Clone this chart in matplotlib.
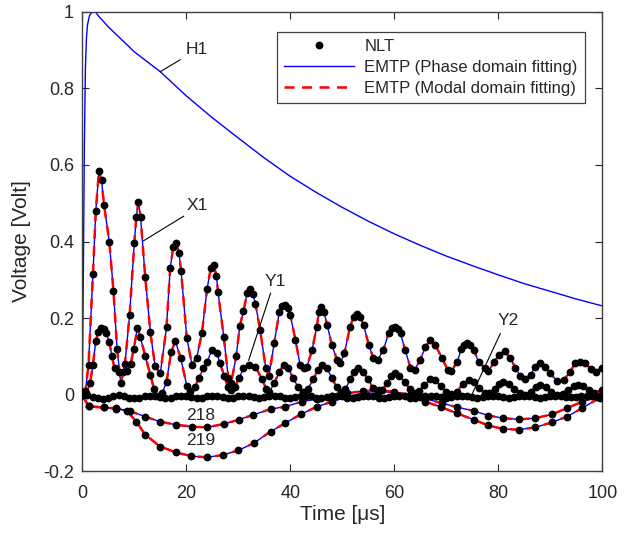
import numpy as np
import matplotlib.pyplot as plt
from matplotlib.lines import Line2D

plt.rcParams['font.family'] = ['Liberation Sans', 'DejaVu Sans']

# ---------------- data ----------------
# H1 (EMTP only, no NLT samples)
h1_t = [0, 0.2, 0.4, 0.6, 0.8, 1.0, 1.4, 2.0, 2.6, 3.0, 5, 10, 15, 20, 25, 30, 35,
        40, 45, 50, 55, 60, 65, 70, 75, 80, 85, 90, 95, 100]
h1_v = [0, 0.30, 0.65, 0.85, 0.93, 0.965, 0.99, 1.0, 0.998, 0.99, 0.96, 0.895, 0.843,
        0.78, 0.723, 0.67, 0.618, 0.57, 0.528, 0.489, 0.453, 0.42, 0.39, 0.362,
        0.337, 0.313, 0.29, 0.27, 0.25, 0.232]

x1_t = [0.0, 0.6, 1.2, 2.05, 2.6, 3.2, 3.7, 4.2, 5.2, 6.0, 6.7, 7.4, 8.2, 9.1, 10.0,
        10.4, 10.8, 11.2, 12.1, 13.1, 14.0, 15.0, 16.2, 16.9, 17.5, 18.1, 18.6, 19.0,
        20.1, 21.1, 22.0, 23.0, 24.0, 24.7, 25.3, 25.8, 26.1, 27.2, 28.1, 28.6, 29.6,
        30.3, 31.0, 31.7, 32.3, 32.8, 33.3, 34.2, 35.3, 35.9, 36.9, 37.9, 38.5, 39.0,
        39.5, 40.0, 41.0, 41.9, 42.6, 43.2, 44.2, 45.1, 45.5, 45.9, 46.5, 47.1, 48.0,
        49.0, 49.6, 50.4, 51.5, 52.2, 52.9, 53.5, 54.1, 55.1, 56.0, 56.8, 57.9, 58.9,
        59.5, 60.1, 60.7, 61.2, 62.1, 63.1, 63.9, 65.0, 66.0, 66.9, 67.9, 69.2, 70.3,
        71.0, 72.1, 72.9, 73.5, 74.0, 74.6, 75.3, 76.2, 77.5, 78.1, 79.2, 80.1, 81.2,
        82.3, 83.3, 84.2, 85.1, 86.2, 87.1, 88.1, 89.0, 90.0, 91.3, 92.6, 93.8, 94.8,
        95.8, 96.7, 97.9, 98.7, 100.0]
x1_v = [0.0, 0.01, 0.079, 0.314, 0.48, 0.583, 0.56, 0.494, 0.40, 0.27, 0.12, 0.03,
        0.08, 0.208, 0.395, 0.465, 0.503, 0.465, 0.308, 0.163, 0.075, 0.056, 0.176,
        0.33, 0.385, 0.395, 0.37, 0.323, 0.149, 0.078, 0.097, 0.16, 0.276, 0.33,
        0.338, 0.31, 0.269, 0.152, 0.043, 0.03, 0.10, 0.18, 0.218, 0.265, 0.277,
        0.262, 0.238, 0.169, 0.069, 0.05, 0.134, 0.217, 0.232, 0.234, 0.226, 0.208,
        0.143, 0.078, 0.069, 0.073, 0.117, 0.178, 0.215, 0.23, 0.215, 0.182, 0.13,
        0.091, 0.082, 0.108, 0.178, 0.203, 0.21, 0.202, 0.182, 0.13, 0.095, 0.091,
        0.117, 0.16, 0.174, 0.178, 0.172, 0.16, 0.117, 0.071, 0.065, 0.091, 0.126,
        0.142, 0.13, 0.095, 0.065, 0.062, 0.086, 0.12, 0.131, 0.134, 0.13, 0.117,
        0.086, 0.069, 0.062, 0.085, 0.104, 0.114, 0.095, 0.071, 0.05, 0.041, 0.052,
        0.073, 0.082, 0.073, 0.056, 0.036, 0.039, 0.06, 0.082, 0.086, 0.082, 0.067,
        0.06, 0.071]

y1_t = [0.0, 0.8, 1.5, 2.05, 2.6, 3.1, 3.6, 4.1, 4.6, 5.2, 5.7, 6.2, 7.0, 7.8, 8.6,
        9.3, 9.9, 10.6, 11.15, 12.1, 13.1, 13.8, 14.6, 15.4, 16.2, 17.1, 17.9, 18.9,
        20.1, 20.8, 21.6, 22.5, 23.3, 24.0, 24.9, 25.9, 26.5, 27.3, 28.0, 28.6, 29.3,
        30.2, 31.0, 32.1, 33.3, 34.6, 35.4, 36.0, 36.9, 37.9, 38.7, 39.6, 40.5, 41.5,
        42.5, 43.4, 44.4, 45.3, 46.1, 47.0, 48.0, 48.9, 49.7, 50.6, 51.5, 52.3, 53.1,
        54.0, 55.0, 55.9, 56.8, 57.7, 58.6, 59.4, 60.1, 61.0, 62.0, 63.0, 63.9, 64.8,
        65.8, 66.9, 67.9, 69.0, 70.0, 71.0, 72.0, 73.2, 74.3, 75.3, 76.3, 77.4, 78.3,
        79.3, 80.2, 81.0, 82.0, 83.0, 84.1, 85.1, 86.2, 87.2, 88.1, 89.1, 90.2, 91.3,
        92.4, 93.5, 94.5, 95.3, 96.3, 97.4, 98.5, 100.0]
y1_v = [0.0, 0.005, 0.03, 0.079, 0.14, 0.165, 0.175, 0.173, 0.16, 0.139, 0.10, 0.07,
        0.06, 0.06, 0.062, 0.08, 0.12, 0.175, 0.151, 0.102, 0.052, 0.015, -0.003,
        0.005, 0.034, 0.112, 0.14, 0.097, 0.024, 0.01, 0.02, 0.045, 0.07, 0.085,
        0.117, 0.108, 0.082, 0.05, 0.02, 0.012, 0.02, 0.045, 0.069, 0.079, 0.073,
        0.04, 0.015, 0.008, 0.03, 0.06, 0.078, 0.07, 0.045, 0.02, 0.008, 0.015, 0.04,
        0.065, 0.078, 0.07, 0.045, 0.02, 0.008, 0.015, 0.04, 0.06, 0.069, 0.06, 0.04,
        0.018, 0.008, 0.013, 0.03, 0.048, 0.056, 0.05, 0.033, 0.015, 0.006, 0.01,
        0.025, 0.042, 0.038, 0.022, 0.008, 0.002, 0.008, 0.028, 0.039, 0.033, 0.018,
        0.006, 0.004, 0.015, 0.028, 0.034, 0.028, 0.015, 0.004, 0.0, 0.008, 0.02,
        0.025, 0.02, 0.008, 0.0, 0.003, 0.013, 0.023, 0.026, 0.022, 0.012, 0.006,
        0.012]

y2_t = np.arange(0, 101, 1.0)
y2_v = [0.004, 0.0, -0.006, -0.008, -0.01, -0.008, -0.004, -0.001, -0.003, -0.007,
        -0.009, -0.007, -0.004, -0.002, -0.003, -0.006, -0.008, -0.007, -0.004, -0.002,
        -0.003, -0.006, -0.008, -0.007, -0.004, -0.002, -0.003, -0.006, -0.008, -0.007,
        -0.004, -0.002, -0.003, -0.006, -0.008, -0.006, -0.003, -0.002, -0.004, -0.007,
        -0.008, -0.006, -0.003, -0.002, -0.004, -0.007, -0.008, -0.006, -0.003, -0.002,
        -0.004, -0.007, -0.008, -0.006, -0.003, -0.002, -0.004, -0.007, -0.008, -0.006,
        -0.003, -0.002, -0.004, -0.007, -0.008, -0.006, -0.003, -0.002, -0.004, -0.006,
        -0.008, -0.006, -0.003, -0.002, -0.004, -0.006, -0.008, -0.006, -0.003, -0.002,
        -0.004, -0.006, -0.007, -0.006, -0.003, -0.002, -0.004, -0.006, -0.007, -0.005,
        -0.003, -0.002, -0.003, -0.005, -0.006, -0.005, -0.003, -0.002, -0.003, -0.005,
        -0.004]

n218_t = [0, 1.2, 4.1, 6.5, 9.1, 12.1, 15.0, 18.0, 21.1, 24.0, 27.2, 30.1, 32.9, 36.3,
          39.0, 42.2, 45.1, 48.0, 51.0, 54.0, 57.0, 60.0, 63.0, 66.0, 69.2, 72.0, 75.3,
          78.1, 81.0, 83.9, 87.1, 90.3, 93.2, 96.1, 99.6]
n218_v = [0.0, -0.03, -0.033, -0.035, -0.042, -0.057, -0.07, -0.078, -0.083, -0.085,
          -0.076, -0.065, -0.052, -0.037, -0.031, -0.018, -0.011, -0.004, 0.004, 0.01,
          0.012, 0.008, 0.0, -0.01, -0.022, -0.032, -0.042, -0.054, -0.061, -0.064,
          -0.061, -0.051, -0.035, -0.018, -0.002]

n219_t = [0, 1.2, 4.1, 6.5, 8.6, 10.4, 12.1, 15.0, 18.0, 21.0, 24.0, 27.0, 30.0, 33.0,
          36.2, 39.0, 42.0, 45.1, 48.0, 51.0, 54.0, 57.0, 60.0, 63.0, 66.0, 69.0, 72.0,
          75.3, 78.1, 81.0, 83.9, 87.1, 90.3, 93.2, 96.1, 99.6]
n219_v = [0.0, -0.03, -0.033, -0.036, -0.042, -0.07, -0.104, -0.135, -0.15, -0.16,
          -0.163, -0.157, -0.145, -0.126, -0.096, -0.074, -0.051, -0.031, -0.018,
          -0.005, 0.005, 0.01, 0.005, -0.005, -0.018, -0.032, -0.048, -0.065, -0.08,
          -0.089, -0.091, -0.085, -0.072, -0.057, -0.035, -0.007]

curves = [(x1_t, x1_v), (y1_t, y1_v), (y2_t, y2_v), (n218_t, n218_v), (n219_t, n219_v)]

xticks = [0, 20, 40, 60, 80, 100]
yticks = [-0.2, 0, 0.2, 0.4, 0.6, 0.8, 1]
ytick_labels = ["-0.2", "0", "0.2", "0.4", "0.6", "0.8", "1"]

# ---------------- plot ----------------
fig = plt.figure(figsize=(6.29, 5.33), dpi=100)
ax = fig.add_axes([0.1308, 0.1154, 0.8267, 0.8630])

blue = "#0000FF"
red = "#FF0000"
txt = "#262626"

ax.plot(h1_t, h1_v, color=blue, lw=1.0, zorder=2)
for t, v in curves:
    ax.plot(t, v, color=blue, lw=1.0, zorder=2)
for t, v in curves:
    ax.plot(t, v, color=red, lw=1.8, dashes=(4, 3), zorder=3)
for t, v in curves:
    ax.plot(t, v, "o", color="black", ms=4.6, zorder=4)

# labels with leader lines
ax.text(22.1, 0.90, "H1", fontsize=12.5, color=txt, ha="center", va="center")
ax.plot([18.8, 15.0], [0.874, 0.843], color="black", lw=0.8, zorder=5)
ax.text(22.1, 0.495, "X1", fontsize=12.5, color=txt, ha="center", va="center")
ax.plot([19.5, 11.8], [0.466, 0.402], color="black", lw=0.8, zorder=5)
ax.text(37.2, 0.295, "Y1", fontsize=12.5, color=txt, ha="center", va="center")
ax.plot([36.2, 32.0], [0.265, 0.09], color="black", lw=0.8, zorder=5)
ax.text(82.0, 0.195, "Y2", fontsize=12.5, color=txt, ha="center", va="center")
ax.plot([80.4, 74.9], [0.16, 0.0], color="black", lw=0.8, zorder=5)
ax.text(22.7, -0.055, "218", fontsize=12.5, color=txt, ha="center", va="center", zorder=6)
ax.text(22.7, -0.12, "219", fontsize=12.5, color=txt, ha="center", va="center", zorder=6)

ax.set_xlim(0, 100)
ax.set_ylim(-0.2, 1)
ax.set_xticks(xticks)
ax.set_yticks(yticks)
ax.set_yticklabels(ytick_labels)
ax.tick_params(direction="in", top=True, right=True, length=5, width=0.8,
               colors=txt, labelsize=13)
ax.tick_params(axis="x", pad=10)
ax.tick_params(axis="y", pad=6)
for s in ax.spines.values():
    s.set_color("#404040")
    s.set_linewidth(1.0)

ax.set_xlabel("Time [\u03bcs]", fontsize=15, color=txt, labelpad=2)
ax.set_ylabel("Voltage [Volt]", fontsize=15, color=txt, labelpad=9)

handles = [
    Line2D([], [], marker="o", color="black", ls="none", ms=4.6),
    Line2D([], [], color=blue, lw=1.0),
    Line2D([], [], color=red, lw=1.8, dashes=(4, 3)),
]
labels = ["NLT", "EMTP (Phase domain fitting)", "EMTP (Modal domain fitting)"]
leg = ax.legend(handles, labels, loc="upper right", bbox_to_anchor=(0.967, 0.956),
                fontsize=12, frameon=True, fancybox=False, framealpha=1,
                edgecolor="#404040", handlelength=4.2, handletextpad=0.6,
                labelspacing=0.35, borderpad=0.45, borderaxespad=0)
leg.get_frame().set_linewidth(0.9)
for text in leg.get_texts():
    text.set_color(txt)

fig.savefig("out.png", dpi=100)
